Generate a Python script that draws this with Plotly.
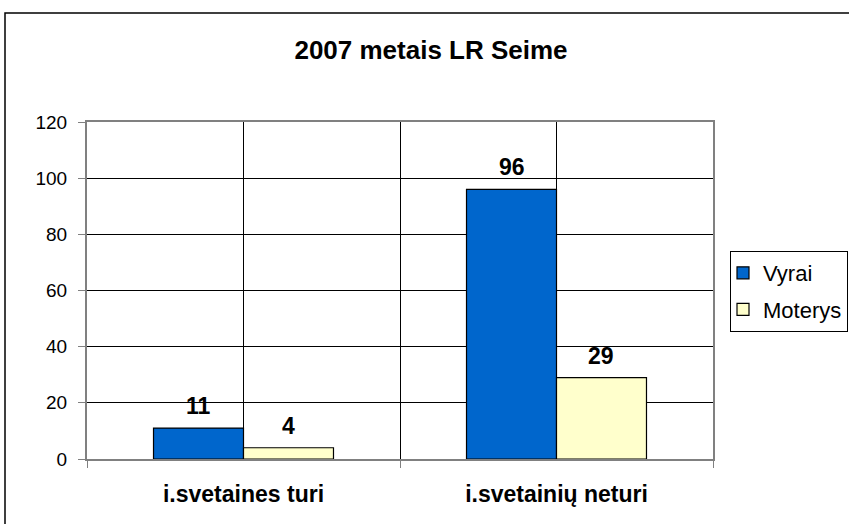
import plotly.graph_objects as go

categories = ["i.svetaines turi", "i.svetainių neturi"]
vyrai = [11, 96]
moterys = [4, 29]
y_ticks = [0, 20, 40, 60, 80, 100, 120]

xpos = list(range(len(categories)))
FONT = "Liberation Sans, Arial, sans-serif"
BARGAP = 0.425
bar_w = (1 - BARGAP) / 2

fig = go.Figure()
fig.add_trace(go.Bar(
    x=xpos, y=vyrai, name="Vyrai", legendgroup="v",
    marker=dict(color="#0066CC", line=dict(color="#000000", width=1.2)),
))
fig.add_trace(go.Bar(
    x=xpos, y=moterys, name="Moterys", legendgroup="m",
    marker=dict(color="#FFFFCC", line=dict(color="#000000", width=1.2)),
))

# data labels above bars
for series, side in ((vyrai, -1), (moterys, 1)):
    for xi, v in zip(xpos, series):
        fig.add_annotation(x=xi + side * bar_w / 2, y=v, text="<b>%d</b>" % v,
                           showarrow=False, yanchor="bottom", yshift=7,
                           font=dict(size=23, family=FONT, color="#000000"))

fig.update_layout(
    width=849, height=524,
    margin=dict(l=87, r=136, t=122, b=65),
    paper_bgcolor="white", plot_bgcolor="white",
    barmode="group", bargap=BARGAP, bargroupgap=0,
    font=dict(family=FONT, size=19, color="#000000"),
    title=dict(text="<b>2007 metais LR Seime</b>", x=431 / 849, xanchor="center",
               y=1 - 50 / 524, yanchor="middle", font=dict(size=26, family=FONT)),
    legend=dict(xref="container", yref="container",
                x=848 / 849, xanchor="right", y=1 - 251 / 524, yanchor="top",
                bordercolor="#000000", borderwidth=1, bgcolor="white",
                font=dict(size=22, family=FONT), traceorder="grouped",
                tracegroupgap=5, itemwidth=30, indentation=-8),
    showlegend=True,
)

fig.update_xaxes(
    range=[-0.5, len(categories) - 0.5],
    tickmode="array", tickvals=xpos,
    ticktext=["<b>" + c + "</b>" for c in categories],
    ticks="", showgrid=True, gridcolor="#000000", gridwidth=1,
    showline=True, linecolor="#808080", linewidth=2, mirror=True,
    tickfont=dict(size=23, family=FONT), ticklabelstandoff=13,
    minor=dict(tickvals=[i - 0.5 for i in range(len(categories) + 1)],
               ticks="outside", ticklen=7, tickcolor="#808080", tickwidth=1,
               showgrid=True, gridcolor="#000000", gridwidth=1),
    zeroline=False,
)
fig.update_yaxes(
    range=[0, 120], tickmode="array", tickvals=y_ticks,
    ticks="outside", ticklen=7, tickcolor="#808080", tickwidth=1,
    showgrid=True, gridcolor="#000000", gridwidth=1,
    showline=True, linecolor="#808080", linewidth=2, mirror=True,
    tickfont=dict(size=19, family=FONT), ticklabelstandoff=7, zeroline=False,
)

# outer chart border
fig.add_shape(type="rect", xref="paper", yref="paper",
              x0=(5 - 87) / 626, x1=(853 - 87) / 626,
              y0=(459 - 530) / 337, y1=(459 - 13) / 337,
              line=dict(color="#000000", width=1.5), layer="below")

fig.write_html("out.html", config={"displayModeBar": False},
               post_script="document.body.style.margin='0';document.body.style.padding='0';")
